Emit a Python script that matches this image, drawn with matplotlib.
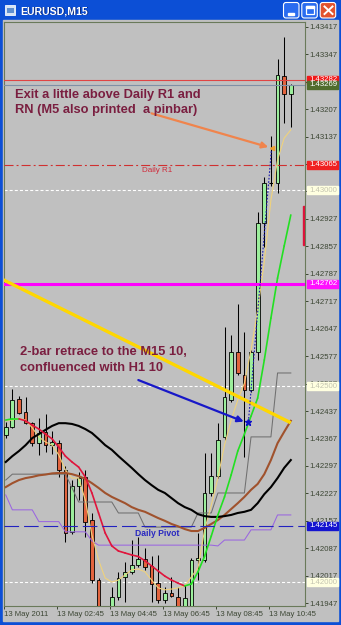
import matplotlib
matplotlib.use('Agg')
import matplotlib.pyplot as plt
import matplotlib.transforms as mtransforms
from matplotlib.patches import Rectangle, FancyBboxPatch
from matplotlib.colors import LinearSegmentedColormap
import numpy as np

W, H, DPI = 341, 625, 100
plt.rcParams['lines.scale_dashes'] = False
plt.rcParams['font.family'] = ['Liberation Sans', 'DejaVu Sans']

# ---------------- data ----------------
time_labels = ['13 May 2011', '13 May 02:45', '13 May 04:45', '13 May 06:45', '13 May 08:45', '13 May 10:45']
time_label_bars = [0, 8, 16, 24, 32, 40]
price_ticks = [1.43417, 1.43347, 1.43277, 1.43207, 1.43137, 1.43067, 1.42997, 1.42927, 1.42857,
               1.42787, 1.42717, 1.42647, 1.42577, 1.42507, 1.42437, 1.42367, 1.42297, 1.42227,
               1.42157, 1.42087, 1.42017, 1.41947]
hidden_ticks = [1.43277, 1.43067, 1.42997]   # fully covered by the level boxes in the reference

opens = [1.42376, 1.42397, 1.42468, 1.42435, 1.42406, 1.42355, 1.42384, 1.42350, 1.42355, 1.42287,
         1.42128, 1.42246, 1.42269, 1.42159, 1.42006, 1.41910, 1.41930, 1.41963, 1.42014, 1.42027,
         1.42044, 1.42060, 1.42042, 1.41998, 1.41955, 1.41974, 1.41963, 1.41930, 1.41937, 1.42057,
         1.42058, 1.42228, 1.42271, 1.42370, 1.42466, 1.42588, 1.42529, 1.42490, 1.42587, 1.42916,
         1.43018, 1.43018, 1.43291, 1.43245]
highs = [1.42409, 1.42493, 1.42475, 1.42474, 1.42409, 1.42420, 1.42429, 1.42385, 1.42363, 1.42297,
         1.42261, 1.42282, 1.42287, 1.42177, 1.42011, 1.41935, 1.41988, 1.42027, 1.42053, 1.42108,
         1.42117, 1.42088, 1.42067, 1.42070, 1.41989, 1.42015, 1.41989, 1.41993, 1.42062, 1.42126,
         1.42331, 1.42330, 1.42407, 1.42652, 1.42631, 1.42710, 1.42639, 1.42592, 1.42945, 1.43034,
         1.43138, 1.43334, 1.43390, 1.43270]
lows = [1.42368, 1.42394, 1.42429, 1.42404, 1.42348, 1.42326, 1.42332, 1.42327, 1.42269, 1.42104,
        1.42123, 1.42210, 1.42116, 1.41998, 1.41904, 1.41900, 1.41920, 1.41955, 1.41951, 1.42021,
        1.42039, 1.42032, 1.41951, 1.41947, 1.41947, 1.41963, 1.41925, 1.41925, 1.41925, 1.42006,
        1.42052, 1.42221, 1.42266, 1.42363, 1.42460, 1.42529, 1.42320, 1.42485, 1.42567, 1.42856,
        1.43011, 1.42994, 1.43171, 1.43162]
closes = [1.42396, 1.42465, 1.42432, 1.42406, 1.42355, 1.42381, 1.42350, 1.42359, 1.42287, 1.42126,
          1.42247, 1.42265, 1.42155, 1.42006, 1.41917, 1.41930, 1.41963, 1.42011, 1.42027, 1.42044,
          1.42060, 1.42039, 1.41996, 1.41955, 1.41973, 1.41965, 1.41930, 1.41960, 1.42057, 1.42062,
          1.42228, 1.42271, 1.42363, 1.42472, 1.42588, 1.42534, 1.42490, 1.42588, 1.42916, 1.43019,
          1.43018, 1.43294, 1.43245, 1.43269]

fast_ma = [1.42414, 1.42417, 1.42417, 1.42412, 1.42401, 1.42391, 1.42378, 1.42366, 1.42345, 1.42322,
           1.42307, 1.42294, 1.42269, 1.42228, 1.42177, 1.42126, 1.42093, 1.42080, 1.42075, 1.42070,
           1.42066, 1.42055, 1.42042, 1.42029, 1.42016, 1.42006, 1.41998, 1.41991, 1.41996, 1.42027,
           1.42067, 1.42118, 1.42172, 1.42218, 1.42274, 1.42335, 1.42378, 1.42424, 1.42470, 1.42567,
           1.42674, 1.42776, 1.42858, 1.42937]
yellow_ma = [1.42412, 1.42414, 1.42419, 1.42414, 1.42394, 1.42371, 1.42358, 1.42350, 1.42325, 1.42287,
             1.42266, 1.42266, 1.42210, 1.42121, 1.42057, 1.42011, 1.42001, 1.42006, 1.42019, 1.42032,
             1.42034, 1.42027, 1.42006, 1.41986, 1.41981, 1.41983, 1.41986, 1.41991, 1.42014, 1.42037,
             1.42134, 1.42197, 1.42266, 1.42350, 1.42414, 1.42465, 1.42508, 1.42593, 1.42695, 1.42817,
             1.42975, 1.43077, 1.43133, 1.43154]
black_ma = [1.42307, 1.42322, 1.42335, 1.42350, 1.42368, 1.42378, 1.42389, 1.42399, 1.42406, 1.42406,
            1.42404, 1.42399, 1.42391, 1.42381, 1.42366, 1.42350, 1.42338, 1.42322, 1.42307, 1.42292,
            1.42276, 1.42261, 1.42248, 1.42236, 1.42228, 1.42215, 1.42202, 1.42192, 1.42185, 1.42174,
            1.42169, 1.42167, 1.42167, 1.42169, 1.42172, 1.42177, 1.42180, 1.42185, 1.42202, 1.42225,
            1.42243, 1.42266, 1.42292, 1.42312]
brown_ma = [1.42243, 1.42253, 1.42261, 1.42266, 1.42269, 1.42273, 1.42275, 1.42278, 1.42279, 1.42279,
            1.42276, 1.42271, 1.42264, 1.42253, 1.42241, 1.42228, 1.42218, 1.42210, 1.42202, 1.42192,
            1.42185, 1.42180, 1.42172, 1.42164, 1.42157, 1.42149, 1.42143, 1.42136, 1.42131, 1.42131,
            1.42139, 1.42149, 1.42159, 1.42172, 1.42187, 1.42202, 1.42218, 1.42236, 1.42251, 1.42276,
            1.42312, 1.42355, 1.42384, 1.42412]
gray_line = [1.42261, 1.42276, 1.42276, 1.42276, 1.42276, 1.42276, 1.42276, 1.42276, 1.42276, 1.42276,
             1.42241, 1.42205, 1.42205, 1.42205, 1.42205, 1.42205, 1.42205, 1.42177, 1.42177, 1.42177,
             1.42177, 1.42141, 1.42141, 1.42141, 1.42141, 1.42141, 1.42141, 1.42141, 1.42141, 1.42177,
             1.42177, 1.42177, 1.42228, 1.42228, 1.42228, 1.42228, 1.42228, 1.42371, 1.42371, 1.42371,
             1.42371, 1.42534, 1.42534, 1.42534]
purple_line = [1.42223, 1.42185, 1.42185, 1.42185, 1.42185, 1.42155, 1.42155, 1.42155, 1.42155, 1.42129,
               1.42129, 1.42129, 1.42129, 1.42106, 1.42095, 1.42095, 1.42095, 1.42095, 1.42095, 1.42095,
               1.42095, 1.42095, 1.42095, 1.42095, 1.42095, 1.42095, 1.42095, 1.42095, 1.42095, 1.42095,
               1.42095, 1.42095, 1.42093, 1.42108, 1.42108, 1.42108, 1.42108, 1.42134, 1.42134, 1.42134,
               1.42134, 1.42172, 1.42172, 1.42172]

r1_level, bid_level, daily_r1, rn_1430 = 1.43282, 1.43269, 1.43065, 1.43000
magenta_level, rn_1425, pivot_level, rn_1420 = 1.42762, 1.42500, 1.42145, 1.42000
trend_x, trend_y = [-1, 43], [1.42777, 1.42407]
orange_arrow = [(22.0, 1.43196), (39.6, 1.43110)]
blue_arrow = [(20.0, 1.42516), (35.9, 1.42410)]
trade_x, trade_y = [36.6, 40.1], [1.42409, 1.43108]
zone_top, zone_bottom = 1.42960, 1.42860

# ---------------- window chrome ----------------
fig = plt.figure(figsize=(W / DPI, H / DPI), dpi=DPI)
axbg = fig.add_axes([0, 0, 1, 1], zorder=0)
axbg.add_patch(Rectangle((0, 0), W, H, color='#0C4FD6'))
axbg.add_patch(Rectangle((3, 20), 335, 601, color='#C0C0C0'))
cm = LinearSegmentedColormap.from_list('xp', ['#4A98F8', '#1C6EF2', '#0A5CE4', '#0853D8', '#0748C9'])
axbg.imshow(np.linspace(0, 1, 40).reshape(-1, 1), cmap=cm, extent=[0, W, 20, 0], aspect='auto')
axbg.set_xlim(0, W)
axbg.set_ylim(H, 0)
axbg.axis('off')

def button(x0, face):
    axbg.add_patch(FancyBboxPatch((x0, 2.5), 15.5, 15.5, boxstyle='round,pad=0,rounding_size=2.5',
                                  fc=face, ec='white', lw=0.8))
button(283.5, '#2A6CF0')
button(301.8, '#2A6CF0')
button(320.2, '#E2532E')
axbg.add_patch(Rectangle((287.5, 12.5), 6, 2, color='white'))
axbg.add_patch(Rectangle((305.5, 6), 8.5, 8, fill=False, ec='white', lw=0.9))
axbg.add_patch(Rectangle((305.5, 6), 8.5, 1.5, color='white'))
axbg.plot([324.5, 332.5], [6.5, 14], color='white', lw=1.4)
axbg.plot([324.5, 332.5], [14, 6.5], color='white', lw=1.4)
axbg.add_patch(Rectangle((5, 5), 10, 10, fc='#D8E4F4', ec='#F4F8FF', lw=0.6))
axbg.add_patch(Rectangle((6.5, 8), 7, 5, fc='#5F8FD0', ec='none'))
axbg.text(20.8, 11.8, 'EURUSD,M15', color='#0A2A80', fontsize=7.6, fontweight='bold', va='center')
axbg.text(20, 11, 'EURUSD,M15', color='white', fontsize=7.6, fontweight='bold', va='center')

# ---------------- main chart ----------------
ax = fig.add_axes([4 / W, (H - 606) / H, 301 / W, 584 / H], zorder=2)
ax.set_facecolor('#C0C0C0')
ax.set_xlim(-0.26, 45.14)
ax.set_ylim(1.419398, 1.43429)
frame_col = '#6A7A5A'
for s in ax.spines.values():
    s.set_color(frame_col)
    s.set_linewidth(0.8)

lab_col = '#3C4634'
ax.yaxis.tick_right()
ax.set_yticks(price_ticks)
ax.set_yticklabels(['' if t in hidden_ticks else '%.5f' % t for t in price_ticks])
ax.tick_params(axis='y', length=2.2, width=0.7, pad=0.9, colors=lab_col, labelsize=5.6)
ax.set_xticks([b - 0.25 for b in time_label_bars])
ax.set_xticklabels(time_labels)
ax.tick_params(axis='x', length=2.2, width=0.7, pad=1.2, colors=lab_col, labelsize=5.6)
for lbl in ax.get_xticklabels():
    lbl.set_horizontalalignment('left')

# horizontal levels
ax.axhline(r1_level, color='#E04444', lw=0.8, zorder=4)
ax.axhline(bid_level, color='#8090A6', lw=0.8, zorder=4)
ax.axhline(daily_r1, color='#D03030', lw=0.8, dashes=(6.5, 2.2, 1.4, 2.2), zorder=4)
for lv in (rn_1430, rn_1425, rn_1420):
    ax.axhline(lv, color='white', lw=0.8, dashes=(2.2, 1.5), zorder=1.5)
ax.axhline(magenta_level, color='#FF00FF', lw=2.2, zorder=4)
ax.axhline(pivot_level, color='#2222C0', lw=0.8, dashes=(10.5, 3.6), zorder=4)
ax.text(22.8, daily_r1 - 0.00006, 'Daily R1', color='#D02A3A', fontsize=5.8, ha='center', va='top', zorder=6)
ax.text(22.9, pivot_level - 0.00008, 'Daily Pivot', color='#2828C0', fontsize=6.2, ha='center', va='top',
        fontweight='bold', zorder=6)

# candles
bull, bear = '#9CEE9C', '#E2643E'
for i in range(len(opens)):
    o, h, l, c = opens[i], highs[i], lows[i], closes[i]
    ax.vlines(i, l, h, color='black', lw=0.75, zorder=3)
    if abs(c - o) < 1e-6:
        ax.hlines(c, i - 0.3, i + 0.3, color='black', lw=0.8, zorder=3.1)
    else:
        ax.add_patch(Rectangle((i - 0.28, min(o, c)), 0.56, abs(c - o), fc=bull if c > o else bear,
                               ec='black', lw=0.6, zorder=3.1))

xs = np.arange(len(opens))
ax.plot(xs, gray_line, color='#707070', lw=0.75, zorder=3.3)
ax.plot(xs, purple_line, color='#9A66E0', lw=0.75, zorder=3.3)
ax.plot(xs, yellow_ma, color='#EFD27C', lw=0.8, zorder=3.4)
ax.plot(xs, brown_ma, color='#A0522D', lw=1.5, zorder=3.5)
ax.plot(xs, black_ma, color='black', lw=1.5, zorder=3.5)
for k in range(len(fast_ma) - 1):
    col = '#22E022' if fast_ma[k + 1] >= fast_ma[k] else '#E0143C'
    ax.plot(xs[k:k + 2], fast_ma[k:k + 2], color=col, lw=1.2, zorder=3.6, solid_capstyle='round')

ax.add_patch(Rectangle((44.8, zone_bottom), 0.6, zone_top - zone_bottom, color='#DC143C', zorder=4))

# objects
ax.plot(trend_x, trend_y, color='#FFD700', lw=2.4, zorder=4.5, solid_capstyle='butt')
ax.plot(trade_x, trade_y, color='#1A1AB0', lw=0.8, dashes=(1.2, 1.2), zorder=4.6)
ax.plot([trade_x[0]], [trade_y[0]], marker='*', color='#1010C8', ms=5, zorder=4.7)
ax.plot([trade_x[1]], [trade_y[1]], marker='<', color='#F0A030', ms=3, zorder=4.7)
ax.annotate('', xy=orange_arrow[1], xytext=orange_arrow[0], zorder=5,
            arrowprops=dict(arrowstyle='-|>', color='#F0844C', lw=1.6, mutation_scale=9, shrinkA=0, shrinkB=0))
ax.annotate('', xy=blue_arrow[1], xytext=blue_arrow[0], zorder=5,
            arrowprops=dict(arrowstyle='-|>', color='#1818C8', lw=1.6, mutation_scale=9, shrinkA=0, shrinkB=0))

txt_col = '#7A1E40'
ax.text(1.4, 1.43236, 'Exit a little above Daily R1 and', color=txt_col, fontsize=9.3, fontweight='bold',
        va='baseline', zorder=6)
ax.text(1.4, 1.43197, 'RN (M5 also printed  a pinbar)', color=txt_col, fontsize=9.3, fontweight='bold',
        va='baseline', zorder=6)
ax.text(2.16, 1.42579, '2-bar retrace to the M15 10,', color=txt_col, fontsize=9.3, fontweight='bold',
        va='baseline', zorder=6)
ax.text(2.16, 1.42540, 'confluenced with H1 10', color=txt_col, fontsize=9.3, fontweight='bold',
        va='baseline', zorder=6)

# price labels on the scale
trans = mtransforms.blended_transform_factory(fig.transFigure, ax.transData)
box_h = 8 * (1.43429 - 1.419398) / 584
def price_box(level, bg, fg):
    ax.add_patch(Rectangle((306.8 / W, level - box_h / 2), 31.5 / W, box_h, transform=trans, color=bg,
                           clip_on=False, zorder=10))
    ax.text(309.3 / W, level, '%.5f' % level, transform=trans, color=fg, fontsize=5.6, va='center',
            ha='left', clip_on=False, zorder=11)

price_box(r1_level, '#F01818', 'white')
price_box(bid_level, '#506C2C', 'white')
price_box(daily_r1, '#F02020', 'white')
price_box(rn_1430, '#FFFFE0', '#C4C4B0')
price_box(magenta_level, '#FF10FF', 'white')
price_box(rn_1425, '#FFFFE0', '#C4C4B0')
price_box(pivot_level, '#1414D0', 'white')
price_box(rn_1420, '#FFFFE0', '#C4C4B0')

fig.savefig('out.png', dpi=DPI)
